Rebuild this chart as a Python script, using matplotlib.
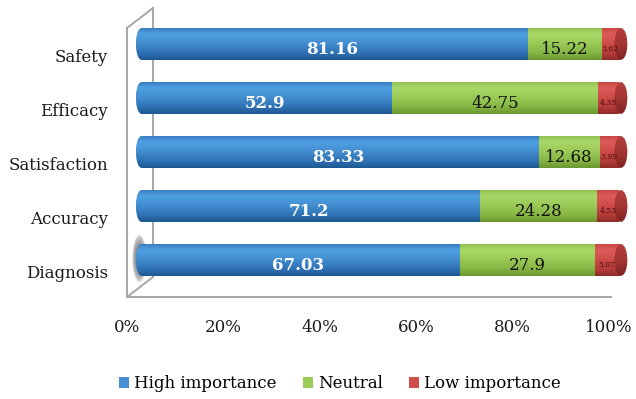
import matplotlib
matplotlib.use('Agg')
import matplotlib.pyplot as plt
import numpy as np
from matplotlib.patches import Ellipse, Patch
from matplotlib.colors import LinearSegmentedColormap
import matplotlib.transforms as mtransforms

categories = ['Diagnosis', 'Accuracy', 'Satisfaction', 'Efficacy', 'Safety']
high = [67.03, 71.2, 83.33, 52.9, 81.16]
neutral = [27.9, 24.28, 12.68, 42.75, 15.22]
low = [5.07, 4.53, 3.99, 4.35, 3.62]
series_names = ['High importance', 'Neutral', 'Low importance']
xticks = [0, 20, 40, 60, 80, 100]
xtick_labels = ['0%', '20%', '40%', '60%', '80%', '100%']

plt.rcParams['font.family'] = ['DejaVu Serif']

W, H = 636, 399
fig = plt.figure(figsize=(6.36, 3.99), dpi=100)
ax = fig.add_axes([137 / W, 1 - 292.4 / H, 482 / W, (292.4 - 11.6) / H])

bar_h = 0.58
end_r = 0.9  # radius of the rounded left end, in x units

cmaps = {
    'blue': LinearSegmentedColormap.from_list('b', [(0, '#3A7DC2'), (0.18, '#4FA0E2'), (0.45, '#4490D3'),
                                                  (0.8, '#2E70B2'), (1, '#1E5791')]),
    'green': LinearSegmentedColormap.from_list('g', [(0, '#93C251'), (0.18, '#AAD868'), (0.45, '#9CCB58'),
                                                   (0.8, '#84B443'), (1, '#6A9630')]),
    'red': LinearSegmentedColormap.from_list('r', [(0, '#C84744'), (0.18, '#DB5C58'), (0.45, '#D04D4A'),
                                                 (0.8, '#B23B38'), (1, '#8E2A28')]),
}
cap_cmap = LinearSegmentedColormap.from_list('rc', [(0, '#B2403D'), (0.5, '#A33532'), (1, '#7E2321')])
legend_cols = ['#4490D3', '#9CCB58', '#D04D4A']
grad = np.linspace(0, 1, 100).reshape(-1, 1)


def shaded(patch, cmap, x0, x1, yc, z, h=None, data=None):
    h = bar_h if h is None else h
    patch.set_zorder(z)
    im = ax.imshow(grad if data is None else data, cmap=cmap, extent=[x0, x1, yc - h / 2, yc + h / 2],
                   origin='upper', aspect='auto', zorder=z + 0.1, interpolation='bilinear')
    im.set_clip_box(fig.bbox)
    im.set_clip_path(patch)


# walls (decoration)
wall = dict(color='#A6A6A6', lw=1.4, clip_on=False, zorder=1)
ax.plot([-2.07, -2.07], [4.296, -0.685], **wall)
ax.plot([-2.07, 3.32], [4.296, 4.667], **wall)
ax.plot([3.32, 3.32], [4.667, -0.315], **wall)
ax.plot([-2.07, 3.32], [-0.685, -0.315], **wall)
ax.plot([-2.07, 98.34], [-0.685, -0.685], **wall)

# soft shadow near first bar
sh = Ellipse((0.5, 0.02), 3.0, 0.9, facecolor='none', edgecolor='none', clip_on=False)
ax.add_patch(sh)
xs = np.linspace(-1, 1, 60)
XX, YY = np.meshgrid(xs, xs)
blob = np.clip(1 - (XX ** 2 + YY ** 2), 0, 1) ** 0.6
shaded(sh, LinearSegmentedColormap.from_list('s2', ['#FFFFFF', '#7A7A7A']), -1.0, 2.0, 0.02, 1.5, h=0.9,
       data=blob)

y = np.arange(len(categories))
left_n = np.array(high)
left_l = np.array(high) + np.array(neutral)

bh = ax.barh(y, high, left=0, height=bar_h, color='#4490D3', edgecolor='none')
for r in bh:
    # start the flat body where the rounded end takes over
    r.set_width(r.get_width() - end_r)
    r.set_x(end_r)
bn = ax.barh(y, neutral, left=left_n, height=bar_h, color='#9CCB58', edgecolor='none')
bl = ax.barh(y, low, left=left_l, height=bar_h, color='#D04D4A', edgecolor='none')

for i in range(len(y)):
    # left rounded end of the cylinder
    e = Ellipse((end_r, y[i]), 2 * end_r + 0.4, bar_h, facecolor='#4490D3', edgecolor='none', clip_on=False)
    ax.add_patch(e)
    shaded(e, cmaps['blue'], -1, 2.5, y[i], 2)
    shaded(bh[i], cmaps['blue'], end_r, high[i], y[i], 2)
    shaded(bn[i], cmaps['green'], left_n[i], left_n[i] + neutral[i], y[i], 2)
    shaded(bl[i], cmaps['red'], left_l[i], left_l[i] + low[i], y[i], 2)
    tot = left_l[i] + low[i]
    c = Ellipse((tot + 0.4, y[i]), 2.6, bar_h, facecolor='#A33532', edgecolor='none', clip_on=False)
    ax.add_patch(c)
    shaded(c, cap_cmap, tot - 1.2, tot + 2.0, y[i], 3)

    ax.text(high[i] / 2, y[i] - 0.1, f'{high[i]:g}', ha='center', va='center', color='white',
            fontsize=12, fontweight='bold', zorder=5)
    ax.text(left_n[i] + neutral[i] / 2, y[i] - 0.1, f'{neutral[i]:g}', ha='center', va='center',
            color='#111111', fontsize=12, zorder=5)
    ax.text(left_l[i] + low[i] / 2, y[i] - 0.1, f'{low[i]:g}', ha='center', va='center',
            color='#4A0E0E', fontsize=5.5, zorder=5)

ax.set_xlim(0, 100)
ax.set_ylim(-0.6, 4.6)
for s in ax.spines.values():
    s.set_visible(False)
ax.set_facecolor('none')

ax.set_yticks(y)
ax.set_yticklabels(categories, fontsize=12, color='#1A1A1A')
ax.set_xticks(xticks)
ax.set_xticklabels(xtick_labels, fontsize=12, color='#1A1A1A')
ax.tick_params(axis='y', length=0, pad=21)
ax.tick_params(axis='x', length=0, pad=19)

offy = mtransforms.ScaledTranslation(0, -12 / 100, fig.dpi_scale_trans)
for lab in ax.get_yticklabels():
    lab.set_transform(lab.get_transform() + offy)
offx = mtransforms.ScaledTranslation(-10 / 100, 0, fig.dpi_scale_trans)
for lab in ax.get_xticklabels():
    lab.set_transform(lab.get_transform() + offx)

handles = [Patch(facecolor=c, edgecolor='none') for c in legend_cols]
fig.legend(handles, series_names, loc='center', bbox_to_anchor=(340 / W, 1 - 384 / H), ncol=3,
           frameon=False, prop={'size': 12}, handlelength=0.6, handleheight=0.6,
           handletextpad=0.3, columnspacing=1.6)

fig.savefig('out.png', dpi=100)
